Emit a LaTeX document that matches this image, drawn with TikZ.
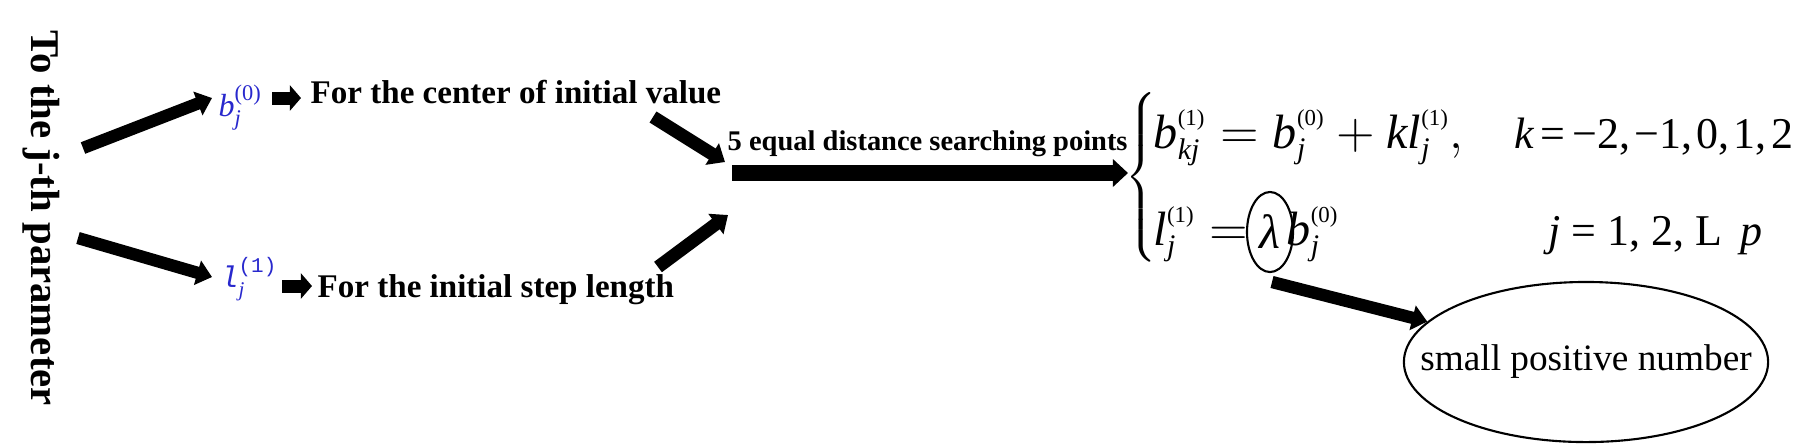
\documentclass[tikz,border=0pt]{standalone}
\usepackage{amsmath}
\usepackage{fontspec}
\setmainfont{Liberation Serif}
\newfontfamily\courierfont{Liberation Mono}
\usetikzlibrary{arrows.meta,shapes.geometric}
\definecolor{symblue}{RGB}{40,40,205}
\newcommand{\mv}[1]{\text{\itshape #1}}
\newcommand{\supx}[1]{\mbox{\fontsize{6.5}{7}\selectfont #1}}
\newcommand{\subx}[1]{\mbox{\fontsize{8.5}{9}\selectfont\itshape #1}}
\tikzset{
  fat/.style={line width=3.5pt,-{Triangle[length=4.3pt,width=7pt]}},
  stub/.style={line width=3.7pt,-{Triangle[length=3.2pt,width=7.2pt]}},
  caption/.style={font=\bfseries\fontsize{9.4}{11}\selectfont,inner sep=0pt,anchor=base west},
  sidelabel/.style={font=\bfseries\fontsize{11.6}{13}\selectfont,inner sep=0pt},
  symbol/.style={text=symblue,inner sep=0pt,anchor=base west},
  eqn/.style={font=\fontsize{13.7}{16}\selectfont,inner sep=0pt,anchor=base west},
  rangetext/.style={font=\fontsize{12.5}{15}\selectfont,inner sep=0pt,anchor=base east},
  ring/.style={draw,ellipse,line width=0.6pt,inner sep=0pt}
}
\begin{document}
\begin{tikzpicture}[x=0.01cm,y=-0.01cm]
\useasboundingbox (0,0) rectangle (1797,444);
% left part
\node[sidelabel,rotate=-90] (param) at (41,218) {To the j-th parameter};
\node[symbol,font=\fontsize{9.1}{11}\selectfont] (bzero) at (218,116) {$\mv{b}_{\mv{j}}^{\text{(0)}}$};
\node[symbol,font=\fontsize{8.5}{10}\selectfont] (lone) at (220,287) {$\text{\courierfont\itshape l}_{\mv{j}}^{\text{\courierfont(1)}}$};
\node[caption] (center) at (310,103) {For the center of initial value};
\node[caption] (steplen) at (317,297) {For the initial step length};
\node[caption,font=\bfseries\fontsize{8.1}{10}\selectfont] (points) at (727,150) {5 equal distance searching points};
% equations
\node[inner sep=0pt] (brace) at (1143,180) {$\left\{\rule[-23pt]{0pt}{46pt}\right.$};
\node[eqn] (bkj) at (1153,148) {$\mv{b}_{\subx{kj}}^{\supx{(1)}} = \mv{b}_{\subx{j}}^{\supx{(0)}} + \mv{k}\mv{l}_{\subx{j}}^{\supx{(1)}},$};
\node[rangetext] (krange) at (1794,148) {\textit{k}\hspace{0.15em}=\hspace{0.15em}−2,\hspace{0.1em}−1,\hspace{0.1em}0,\hspace{0.1em}1,\hspace{0.1em}2};
\node[eqn] (lj) at (1153,245) {$\mv{l}_{\subx{j}}^{\supx{(1)}} =$};
\node[ring,minimum width=0.46cm,minimum height=0.8cm,font=\fontsize{13.7}{16}\selectfont] (lam) at (1270,232) {\makebox[0pt]{\itshape λ}};
\node[eqn] (bj) at (1286,245) {$\mv{b}_{\subx{j}}^{\supx{(0)}}$};
\node[rangetext] (jrange) at (1763,245) {\textit{j} = 1, 2, L\, \textit{p}};
\node[ring,minimum width=3.64cm,minimum height=1.6cm,font=\fontsize{10.6}{12}\selectfont] (small) at (1586,362) {\makebox[0pt]{small positive number}};
% arrows
\coordinate (upfrom) at (83,148);
\coordinate (downfrom) at (78,238);
\coordinate (valueout) at (653,117);
\coordinate (lengthout) at (658,267);
\coordinate (pin) at (732,173);
\coordinate (lamout) at (1272,282);
\draw[fat] (upfrom) -- (212,98);
\draw[fat] (downfrom) -- (212,277);
\draw[stub] (272,98) -- (301,98);
\draw[stub] (282,286) -- (312,286);
\draw[fat,line width=3.7pt] (valueout) -- (725,162);
\draw[fat,line width=3.7pt] (lengthout) -- (728,215);
\draw[fat,line width=4.3pt,-{Triangle[length=4.3pt,width=7.7pt]}] (pin) -- (1128,173);
\draw[fat] (lamout) -- (small);
\end{tikzpicture}
\end{document}
